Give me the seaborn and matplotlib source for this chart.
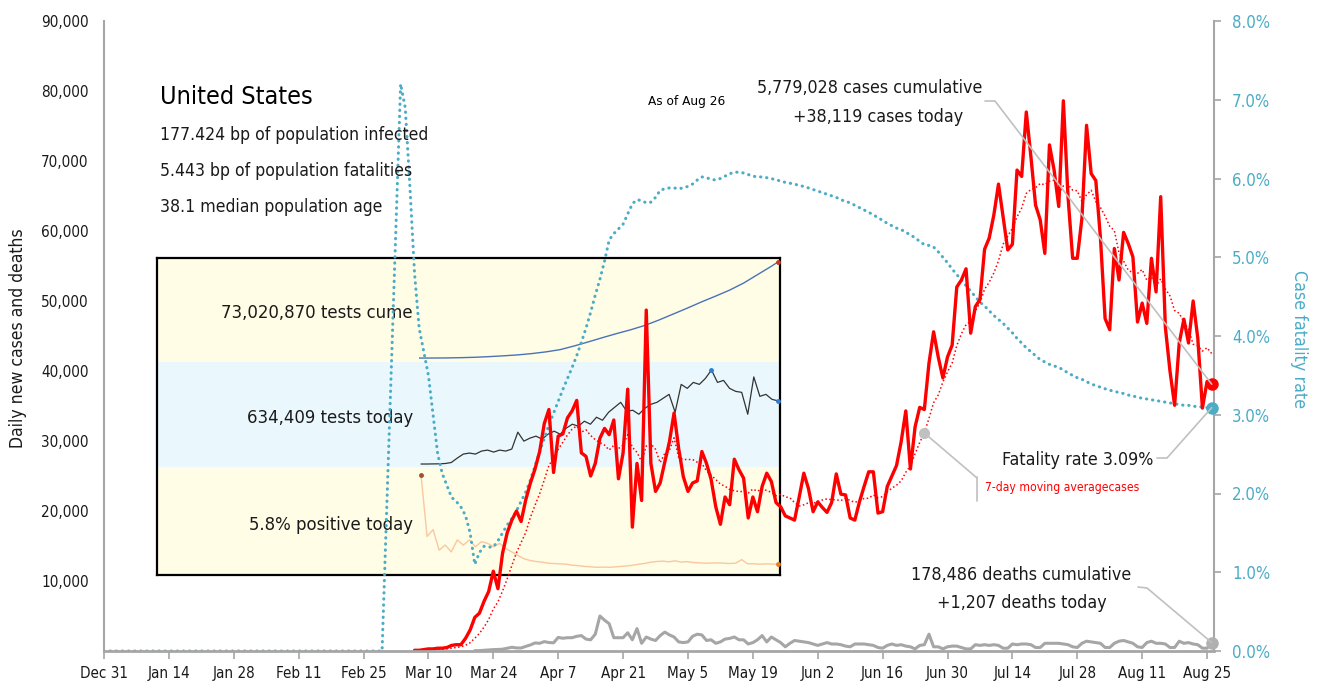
import pandas as pd
import matplotlib
matplotlib.use("Agg")
import matplotlib.pyplot as plt
import matplotlib.dates as mdates
from matplotlib.lines import Line2D
import seaborn as sns

W, H = 1318, 688

# ---- data ----
# daily new cases (thousands), from Mar 7 to Aug 26
cases_start = "2020-03-07"
daily_cases_k = [
    0.1, 0.1, 0.2, 0.3, 0.3, 0.4, 0.4, 0.5, 0.8, 0.9,
    0.9, 1.8, 3.0, 4.8, 5.4, 7.1, 8.5, 11.4, 8.9, 14.0,
    16.9, 18.7, 20.0, 18.5, 21.6, 24.0, 26.0, 28.5, 32.5, 34.5,
    25.5, 30.7, 31.0, 33.3, 34.3, 35.8, 28.3, 27.8, 25.0, 26.8,
    30.4, 31.8, 30.9, 33.0, 24.6, 28.3, 37.4, 17.7, 26.8, 21.5,
    48.7, 26.8, 22.8, 24.0, 27.0, 29.9, 34.0, 28.9, 24.9, 22.8,
    24.0, 24.3, 28.5, 26.8, 24.5, 20.6, 18.1, 22.0, 20.9, 27.4,
    25.9, 24.7, 19.0, 22.0, 19.9, 23.5, 25.4, 24.2, 21.2, 20.6,
    19.3, 19.0, 18.7, 22.0, 25.4, 23.2, 19.9, 21.3, 20.5, 19.8,
    21.2, 25.3, 22.4, 22.3, 19.0, 18.7, 21.3, 23.5, 25.6, 25.6,
    19.7, 19.9, 23.5, 25.0, 26.5, 29.9, 34.3, 26.0, 32.0, 34.8,
    34.5, 41.1, 45.6, 42.0, 39.0, 42.0, 43.7, 52.0, 53.0, 54.6,
    45.4, 49.2, 50.2, 57.4, 59.0, 62.3, 66.7, 62.0, 57.3, 58.1,
    68.7, 67.8, 77.0, 70.6, 63.7, 61.6, 56.8, 72.3, 68.7, 63.5,
    78.6, 64.9, 56.1, 56.1, 61.8, 75.1, 68.2, 67.2, 59.0, 47.5,
    45.9, 57.5, 53.0, 59.8, 58.2, 56.3, 47.0, 49.7, 46.8, 56.1,
    51.3, 64.9, 46.3, 40.0, 35.1, 44.0, 47.4, 44.0, 50.0, 44.7,
    34.7, 38.5, 38.119,
]

# daily deaths (thousands), from Mar 20 to Aug 26
deaths_start = "2020-03-20"
daily_deaths_k = [
    0.05, 0.05, 0.10, 0.14, 0.20, 0.22, 0.26, 0.40, 0.53, 0.44,
    0.43, 0.66, 0.87, 1.15, 1.10, 1.34, 1.21, 1.17, 1.94, 1.82,
    1.90, 1.90, 2.10, 2.20, 1.70, 1.60, 2.40, 5.00, 4.40, 3.90,
    1.90, 1.90, 1.90, 2.60, 1.60, 3.20, 1.10, 2.00, 1.70, 1.50,
    2.20, 2.70, 2.30, 2.00, 1.30, 1.20, 1.30, 2.10, 2.40, 2.30,
    1.50, 1.60, 1.10, 1.30, 1.70, 1.80, 2.00, 1.60, 1.60, 1.00,
    1.20, 1.60, 2.20, 1.30, 2.00, 1.60, 1.20, 0.60, 1.10, 1.50,
    1.40, 1.30, 1.20, 1.00, 0.80, 1.00, 1.20, 1.00, 1.00, 0.90,
    0.70, 0.60, 1.00, 1.00, 1.00, 0.90, 0.80, 0.50, 0.40, 0.80,
    1.00, 0.80, 0.90, 0.70, 0.60, 0.30, 0.80, 0.90, 2.40, 0.60,
    0.60, 0.30, 0.60, 0.70, 0.70, 0.50, 0.30, 0.30, 0.90, 0.80,
    0.90, 0.80, 0.90, 0.80, 0.40, 0.40, 1.00, 0.90, 1.00, 1.00,
    0.90, 0.50, 0.50, 1.10, 1.10, 1.10, 1.10, 1.00, 0.90, 0.60,
    0.50, 1.10, 1.40, 1.30, 1.20, 1.10, 0.50, 0.50, 1.10, 1.40,
    1.50, 1.30, 1.10, 0.60, 0.50, 1.20, 1.40, 1.10, 1.10, 1.00,
    0.50, 0.50, 1.40, 1.10, 1.20, 1.00, 0.90, 0.40, 0.40, 1.207,
]

# case fatality rate (%), zero until Feb 29, then daily to Aug 26
cfr_start = "2020-02-29"
cfr_pct = [
    0.0, 1.8, 3.6, 5.4, 7.2, 6.9, 5.9, 4.8, 4.1, 3.8,
    3.5, 3.0, 2.5, 2.25, 2.1, 1.95, 1.9, 1.83, 1.72, 1.5,
    1.1, 1.25, 1.33, 1.32, 1.32, 1.4, 1.5, 1.6, 1.68, 1.78,
    1.9, 2.02, 2.17, 2.35, 2.53, 2.7, 2.87, 3.02, 3.17, 3.32,
    3.46, 3.6, 3.75, 3.92, 4.1, 4.3, 4.52, 4.72, 4.95, 5.22,
    5.3, 5.36, 5.42, 5.55, 5.68, 5.73, 5.72, 5.69, 5.7, 5.76,
    5.85, 5.87, 5.88, 5.88, 5.87, 5.88, 5.9, 5.93, 5.98, 6.02,
    6.01, 5.99, 5.98, 6.0, 6.03, 6.06, 6.08, 6.08, 6.07, 6.05,
    6.03, 6.02, 6.02, 6.01, 6.0, 5.98, 5.97, 5.95, 5.94, 5.93,
    5.91, 5.9, 5.88, 5.86, 5.84, 5.82, 5.8, 5.78, 5.76, 5.73,
    5.71, 5.69, 5.66, 5.63, 5.6, 5.57, 5.54, 5.5, 5.47, 5.43,
    5.4, 5.37, 5.35, 5.32, 5.28, 5.25, 5.2, 5.16, 5.15, 5.13,
    5.07, 5.0, 4.93, 4.85, 4.78, 4.71, 4.64, 4.57, 4.5, 4.43,
    4.38, 4.32, 4.26, 4.21, 4.16, 4.1, 4.04, 3.97, 3.91, 3.85,
    3.8, 3.75, 3.7, 3.67, 3.64, 3.62, 3.6, 3.57, 3.53, 3.5,
    3.47, 3.45, 3.42, 3.39, 3.37, 3.35, 3.33, 3.31, 3.3, 3.28,
    3.27, 3.25, 3.24, 3.22, 3.21, 3.2, 3.19, 3.18, 3.17, 3.16,
    3.15, 3.14, 3.13, 3.12, 3.12, 3.11, 3.1, 3.1, 3.09, 3.09,
]

# inset: cumulative tests (millions), weekly from Mar 1 plus Aug 26
tests_cume_m = [
    0.0, 0.01, 0.1, 0.3, 0.6, 1.1, 1.7, 2.4, 3.4, 4.7, 6.4, 9.2, 12.3,
    15.5, 18.6, 21.5, 24.8, 28.9, 33.4, 37.9, 42.6, 47.0, 51.6, 57.0,
    63.5, 70.0, 73.02,
]
# inset: tests per day (thousands) and positive rate (%), every 3 days to Aug 26
tests_today_k = [
    0, 0, 1, 2, 5, 15, 60, 100, 110, 100,
    130, 140, 120, 140, 130, 150, 320, 230, 260, 280,
    250, 300, 330, 300, 360, 400, 380, 430, 400, 470,
    440, 520, 570, 620, 530, 540, 500, 560, 600, 620,
    660, 700, 520, 800, 760, 820, 800, 860, 945, 820,
    840, 760, 730, 720, 500, 875, 680, 700, 650, 634.4,
]
positive_pct = [
    58, 22, 26, 14, 17, 13, 20, 17, 20, 16,
    19, 18, 16, 18, 15, 13, 11, 9, 8, 7.4,
    7.0, 6.4, 6.2, 6.0, 5.8, 5.2, 5.0, 4.5, 4.3, 4.0,
    4.1, 4.0, 4.2, 4.5, 4.8, 5.2, 5.8, 6.3, 7.0, 7.4,
    7.6, 7.2, 7.8, 7.0, 7.3, 6.8, 6.6, 6.4, 6.5, 6.6,
    6.4, 6.2, 6.4, 8.5, 6.0, 6.1, 5.8, 6.0, 5.9, 5.8,
]

cases = pd.Series(daily_cases_k, index=pd.date_range(cases_start, periods=len(daily_cases_k))) * 1000
deaths = pd.Series(daily_deaths_k, index=pd.date_range(deaths_start, periods=len(daily_deaths_k))) * 1000
cfr = pd.Series(cfr_pct, index=pd.date_range(cfr_start, periods=len(cfr_pct)))
cfr[pd.Timestamp("2019-12-31")] = 0.0
cfr = cfr.sort_index()
ma7 = cases.rolling(7, min_periods=1).mean()

cume_idx = pd.date_range("2020-03-01", "2020-08-23", freq="7D").append(pd.DatetimeIndex(["2020-08-26"]))
tests_cume = pd.Series(tests_cume_m, index=cume_idx)
inset_idx = pd.date_range(end="2020-08-26", periods=len(tests_today_k), freq="3D")
tests_today = pd.Series(tests_today_k, index=inset_idx)
positive = pd.Series(positive_pct, index=inset_idx)

# ---- styling ----
sns.set_theme(style="white")
plt.rcParams["font.family"] = ["DejaVu Sans"]
plt.rcParams["font.stretch"] = "condensed"
TXT = "#1a1a1a"
RED = "#ff0000"
CYAN = "#4bacc6"
GRAY = "#a6a6a6"
LEADER = "#c0c0c0"

fitted = []  # (text artist, target pixel length or None, vertical, leader text)


def fig_rect(x0, y0, x1, y1):
    # pixel box (top-left origin) -> figure fraction rect
    return [x0 / W, 1 - y1 / H, (x1 - x0) / W, (y1 - y0) / H]


def ftext(x, y, s, width, vertical=False, same_as=None, **kw):
    t = fig.text(x / W, 1 - y / H, s, **kw)
    fitted.append((t, width, vertical, same_as))
    return t


fig = plt.figure(figsize=(W / 100, H / 100), dpi=100)

# ---- inset box with testing panel (drawn under the main chart) ----
box = fig.add_axes(fig_rect(157, 258, 780, 575), zorder=0)
box.set_xlim(0, 1)
box.set_ylim(0, 1)
box.axhspan(0, 108 / 317, color="#fffde6", lw=0)
box.axhspan(108 / 317, 213 / 317, color="#eaf8fe", lw=0)
box.axhspan(213 / 317, 1, color="#fffde6", lw=0)
box.set_xticks([])
box.set_yticks([])
for sp in box.spines.values():
    sp.set_visible(True)
    sp.set_color("black")
    sp.set_linewidth(1.6)

x_in = (pd.Timestamp("2020-03-01"), pd.Timestamp("2020-08-26"))
cume_ax = fig.add_axes(fig_rect(419, 258, 778, 362), zorder=0.5)
mid_ax = fig.add_axes(fig_rect(419, 362, 778, 467), zorder=0.5)
pos_ax = fig.add_axes(fig_rect(419, 467, 778, 575), zorder=0.5)
for a in (cume_ax, mid_ax, pos_ax):
    a.set_facecolor("none")
    a.set_xlim(*x_in)

sns.lineplot(x=tests_cume.index, y=tests_cume.values, ax=cume_ax, color="#4a72b8", lw=1.0)
cume_ax.plot(tests_cume.index[-1], tests_cume.values[-1], "o", color="#c0392b", ms=2.5, clip_on=False)
cume_ax.set_ylim(-3.0, 76.0)

sns.lineplot(x=tests_today.index, y=tests_today.values, ax=mid_ax, color="#333333", lw=0.9)
imax = tests_today.values.argmax()
mid_ax.plot([tests_today.index[imax], tests_today.index[-1]], [tests_today.values[imax], tests_today.values[-1]],
            "o", color="#2f7fd0", ms=2.5, lw=0, clip_on=False)
mid_ax.set_ylim(-30, 1025)

sns.lineplot(x=positive.index, y=positive.values, ax=pos_ax, color="#f8c8a0", lw=1.0)
pos_ax.plot(positive.index[0], positive.values[0], "o", color="#a0522d", ms=2.5, clip_on=False)
pos_ax.plot(positive.index[-1], positive.values[-1], "o", color="#e67e22", ms=2.5, clip_on=False)
pos_ax.set_ylim(-0.5, 62.6)
for a in (cume_ax, mid_ax, pos_ax):
    a.axis("off")

# ---- main chart ----
ax = fig.add_axes(fig_rect(104, 21, 1214, 651))
ax2 = ax.twinx()
ax.set_zorder(3)
ax2.set_zorder(2)
ax.patch.set_visible(False)
ax2.patch.set_visible(False)

sns.lineplot(x=cfr.index, y=cfr.values, ax=ax2, color=CYAN, lw=2.2,
             linestyle=(0, (0.1, 1.9)), dash_capstyle="round")
sns.lineplot(x=deaths.index, y=deaths.values, ax=ax, color=GRAY, lw=2.2)
sns.lineplot(x=ma7.index, y=ma7.values, ax=ax, color=RED, lw=1.1, linestyle=(0, (1.0, 1.6)))
sns.lineplot(x=cases.index, y=cases.values, ax=ax, color=RED, lw=2.4)

last = cases.index[-1]
ax.plot(last, cases.iloc[-1], "o", color=RED, ms=8, clip_on=False, zorder=5)
ax.plot(last, deaths.iloc[-1], "o", color="#b0b0b0", ms=8, clip_on=False, zorder=5)
ax2.plot(last, cfr.iloc[-1], "o", color=CYAN, ms=8, clip_on=False, zorder=5)
ma_day = pd.Timestamp("2020-06-25")
ax.plot(ma_day, ma7[ma_day], "o", color=LEADER, ms=7, zorder=5)

x0 = pd.Timestamp("2019-12-31")
ax.set_xlim(x0, x0 + pd.Timedelta(days=239.5))
ax.set_ylim(0, 90000)
ax2.set_ylim(0, 8)

yt = list(range(10000, 90001, 10000))
ax.set_yticks(yt)
ax.set_yticklabels([f"{v:,}" for v in yt])
ax2.set_yticks(range(0, 9))
ax2.set_yticklabels([f"{v:.1f}%" for v in range(0, 9)])

xt = pd.date_range(x0, periods=18, freq="14D")
ax.set_xticks(xt)
ax.set_xticklabels([f"{d:%b} {d.day}" for d in xt])

ax.tick_params(axis="x", direction="out", length=6, width=1.2, color=GRAY, labelsize=12,
               labelcolor=TXT, pad=5, bottom=True)
ax.tick_params(axis="y", length=0, labelsize=12, labelcolor=TXT, pad=11)
ax2.tick_params(axis="y", direction="out", length=5, width=1.2, color=GRAY, labelsize=12,
                labelcolor=CYAN, pad=8, right=True)
ax.set_xlabel("")
ax.set_ylabel("")
ax2.set_ylabel("")
ax.grid(False)
ax2.grid(False)

for s in ("top", "right"):
    ax.spines[s].set_visible(False)
for s in ("top", "left", "bottom"):
    ax2.spines[s].set_visible(False)
ax.spines["left"].set_color(GRAY)
ax.spines["left"].set_linewidth(1.5)
ax.spines["bottom"].set_color(GRAY)
ax.spines["bottom"].set_linewidth(2.0)
ax2.spines["right"].set_color(GRAY)
ax2.spines["right"].set_linewidth(1.5)

# ---- texts (font size fitted to the pixel width seen in the reference) ----
ftext(18, 338, "Daily new cases and deaths", 220, True, rotation=90, ha="center", va="center", color=TXT)
ftext(1299, 339, "Case fatality rate", 138, True, rotation=270, ha="center", va="center", color=CYAN)

ftext(160, 97, "United States", 153, ha="left", va="center", color="black")
info = ftext(160, 135, "177.424 bp of population infected", 268, ha="left", va="center", color=TXT)
ftext(160, 171, "5.443 bp of population fatalities", None, same_as=info, ha="left", va="center", color=TXT)
ftext(160, 207, "38.1 median population age", None, same_as=info, ha="left", va="center", color=TXT)
ftext(648, 101, "As of Aug 26", 77, ha="left", va="center", color="black")

cum = ftext(870, 88, "5,779,028 cases cumulative", 224, ha="center", va="center", color=TXT)
ftext(878, 117, "+38,119 cases today", None, same_as=cum, ha="center", va="center", color=TXT)
ftext(1153, 460, "Fatality rate 3.09%", None, same_as=cum, ha="right", va="center", color=TXT)
ftext(1021, 575, "178,486 deaths cumulative", None, same_as=cum, ha="center", va="center", color=TXT)
ftext(1022, 603, "+1,207 deaths today", None, same_as=cum, ha="center", va="center", color=TXT)
ftext(985, 488, "7-day moving averagecases", 155, ha="left", va="center", color=RED)

cume_lbl = ftext(413, 313, "73,020,870 tests cume", 191, ha="right", va="center", color=TXT, zorder=1)
ftext(413, 418, "634,409 tests today", None, same_as=cume_lbl, ha="right", va="center", color=TXT, zorder=1)
ftext(413, 525, "5.8% positive today", None, same_as=cume_lbl, ha="right", va="center", color=TXT, zorder=1)

fig.canvas.draw()
renderer = fig.canvas.get_renderer()
for t, target, vertical, _ in fitted:
    if target is None:
        continue
    bb = t.get_window_extent(renderer)
    size = bb.height if vertical else bb.width
    t.set_fontsize(t.get_fontsize() * target / size)
for t, target, vertical, lead in fitted:
    if lead is not None:
        t.set_fontsize(lead.get_fontsize())


def fit_ticks(labels, sample, target):
    ref = [l for l in labels if l.get_text() == sample][0]
    scale = target / ref.get_window_extent(renderer).width
    for l in labels:
        l.set_fontsize(l.get_fontsize() * scale)


fit_ticks(ax.get_xticklabels(), "Dec 31", 48)
fit_ticks(ax.get_yticklabels(), "90,000", 48)
fit_ticks(ax2.get_yticklabels(), "8.0%", 38)


# ---- leader lines ----
def data_px(axis, date, val):
    dx, dy = axis.transData.transform((mdates.date2num(date), val))
    return dx, H - dy


def leader(points):
    xs = [p[0] / W for p in points]
    ys = [1 - p[1] / H for p in points]
    fig.add_artist(Line2D(xs, ys, transform=fig.transFigure, color=LEADER, lw=1.2, zorder=10))


leader([(985, 101), (995, 101), data_px(ax, last, cases.iloc[-1])])
leader([(1157, 458), (1167, 458), data_px(ax2, last, cfr.iloc[-1])])
leader([(1138, 587), (1147, 588), data_px(ax, last, deaths.iloc[-1])])
leader([data_px(ax, ma_day, ma7[ma_day]), (977, 478)])
leader([(977, 477), (977, 501)])

fig.savefig("out.png", dpi=100)
